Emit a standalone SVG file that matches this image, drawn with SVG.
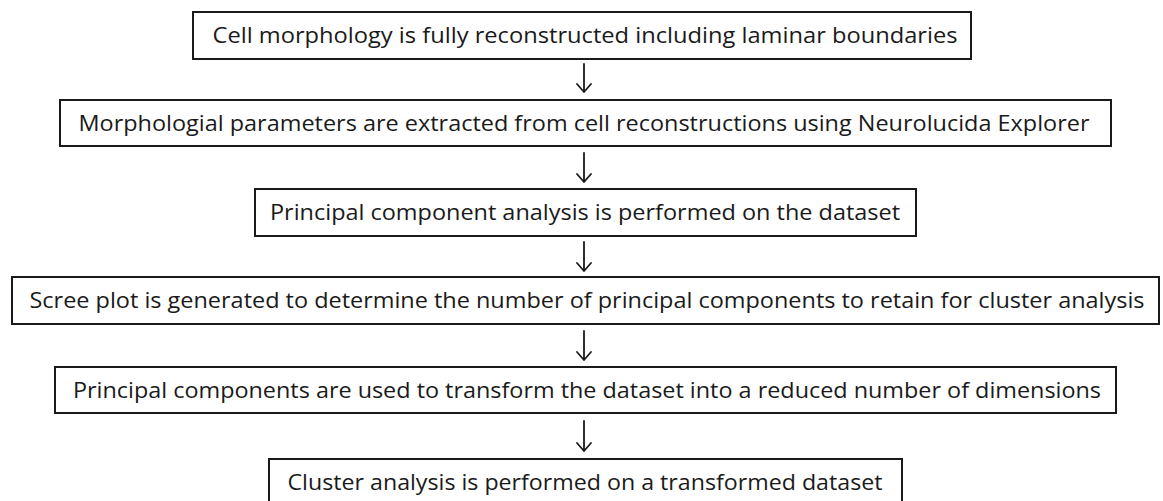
<svg xmlns="http://www.w3.org/2000/svg" width="1163" height="501" viewBox="0 0 1163 501">
<style>
.box{fill:#fff;stroke:#1a1a1a;stroke-width:2}
.lbl{font-family:"Open Sans","Liberation Sans",sans-serif;font-size:21.5px;fill:#1a1a1a;text-anchor:middle}
.arr{fill:none;stroke:#1a1a1a;stroke-width:1.8;stroke-linecap:round;stroke-linejoin:round}
</style>
<rect width="1163" height="501" fill="#fff"/>
<g id="connectors">
<path class="arr" d="M584,64 V92 M577,84 L584,92 L591,84"/>
<path class="arr" d="M584,153 V182 M577,174 L584,182 L591,174"/>
<path class="arr" d="M584,242 V271 M577,263 L584,271 L591,263"/>
<path class="arr" d="M584,331 V360 M577,352 L584,360 L591,352"/>
<path class="arr" d="M584,421 V451 M577,443 L584,451 L591,443"/>
</g>
<g id="n1"><rect class="box" x="193" y="12" width="778" height="47"/><text class="lbl" x="585" y="43" textLength="745" lengthAdjust="spacingAndGlyphs">Cell morphology is fully reconstructed including laminar boundaries</text></g>
<g id="n2"><rect class="box" x="60" y="100" width="1051" height="46"/><text class="lbl" x="584" y="131" textLength="1011" lengthAdjust="spacingAndGlyphs">Morphologial parameters are extracted from cell reconstructions using Neurolucida Explorer</text></g>
<g id="n3"><rect class="box" x="255" y="189" width="661" height="47"/><text class="lbl" x="585" y="220" textLength="630" lengthAdjust="spacingAndGlyphs">Principal component analysis is performed on the dataset</text></g>
<g id="n4"><rect class="box" x="12" y="277" width="1147" height="47"/><text class="lbl" x="587" y="308" textLength="1115" lengthAdjust="spacingAndGlyphs">Scree plot is generated to determine the number of principal components to retain for cluster analysis</text></g>
<g id="n5"><rect class="box" x="55" y="367" width="1061" height="46"/><text class="lbl" x="587" y="398" textLength="1028" lengthAdjust="spacingAndGlyphs">Principal components are used to transform the dataset into a reduced number of dimensions</text></g>
<g id="n6"><rect class="box" x="269" y="459" width="633" height="46"/><text class="lbl" x="585" y="490" textLength="595" lengthAdjust="spacingAndGlyphs">Cluster analysis is performed on a transformed dataset</text></g>
</svg>
